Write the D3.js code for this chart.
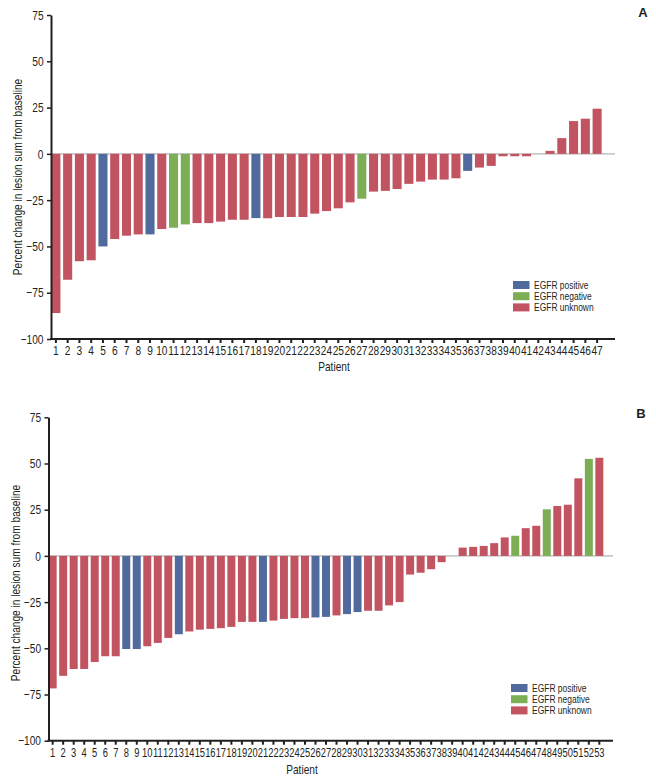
<!DOCTYPE html>
<html>
<head>
<meta charset="utf-8">
<script src="https://cdn.jsdelivr.net/npm/d3@7"></script>
<style>
  html, body { margin: 0; padding: 0; background: #fff; }
  svg { display: block; }
  text { font-family: "Liberation Sans", Arial, sans-serif; fill: #231f20; }
</style>
</head>
<body>
<svg id="chart" width="656" height="781"></svg>
<script>
// ---------- DATA ----------
const statusNames = ["EGFR positive", "EGFR negative", "EGFR unknown"];
const statusColors = ["#506a9d", "#7cae55", "#c25462"];

const yTicks = [-100, -75, -50, -25, 0, 25, 50, 75];

// Panel A: 47 patients (P = positive, N = negative, U = unknown)
const patientsA = d3.range(1, 48);
const valuesA = [-86, -68, -58, -57.5, -50, -46, -44.2, -43.5, -43.5, -40.6,
  -39.9, -38.1, -37.4, -37.4, -36.6, -35.6, -35.6, -34.7, -34.8, -34.1,
  -34.1, -34.1, -32.3, -30.9, -29.4, -26.2, -24.2, -20.4, -20, -19,
  -16.2, -15, -13.9, -13.9, -13.2, -9.2, -7.4, -6.5, -1.3, -1.3,
  -1.3, 0, 1.6, 8.5, 17.7, 19, 24.4];
const statusA = ["U","U","U","U","P","U","U","U","P","U",
  "N","N","U","U","U","U","U","P","U","U",
  "U","U","U","U","U","U","N","U","U","U",
  "U","U","U","U","U","P","U","U","U","U",
  "U","U","U","U","U","U","U"];

// Panel B: 53 patients
const patientsB = d3.range(1, 54);
const valuesB = [-71.7, -64.9, -61.2, -61.2, -57.4, -54.3, -54.3, -50.4, -50.4, -48.9,
  -47.1, -44.4, -42.4, -40.9, -39.9, -39.5, -39.1, -38.4, -35.7, -35.7,
  -35.7, -35, -34.1, -33.7, -33.7, -33.3, -33, -32.2, -31.5, -30.4,
  -29.7, -29.7, -26.8, -25, -10.1, -9.1, -7.2, -3.4, 0, 4.5,
  4.9, 5.4, 6.9, 10, 10.9, 15, 16.3, 25.2, 27, 27.7,
  42, 52.5, 53.1];
const statusB = ["U","U","U","U","U","U","U","P","P","U",
  "U","U","P","U","U","U","U","U","U","U",
  "P","U","U","U","U","P","P","U","P","P",
  "U","U","U","U","U","U","U","U","U","U",
  "U","U","U","U","N","U","U","N","U","U",
  "U","N","U"];

const statusCode = { P: 0, N: 1, U: 2 };

// ---------- DRAW ----------
const svg = d3.select("#chart");
const SQ = 0.78; // horizontal condensing of the Helvetica-Condensed-like type

function panel(cfg) {
  const g = svg.append("g");
  const y = d3.scaleLinear().domain([-100, 75]).range([cfg.yBottom, cfg.yTop]);
  const x = d3.scaleBand().domain(cfg.patients).range([cfg.x0, cfg.x1])
    .paddingInner(cfg.padIn).paddingOuter(cfg.padIn / 2);

  // zero reference line
  g.append("line")
    .attr("x1", cfg.axisX).attr("x2", cfg.axisEnd)
    .attr("y1", y(0)).attr("y2", y(0))
    .attr("stroke", "#c9c9c9").attr("stroke-width", 1.6);

  // bars
  g.selectAll("rect.bar")
    .data(cfg.patients.map((p, i) => ({ p, v: cfg.values[i], s: statusCode[cfg.status[i]] })))
    .join("rect")
    .attr("class", "bar")
    .attr("x", d => x(d.p))
    .attr("width", x.bandwidth())
    .attr("y", d => y(Math.max(0, d.v)))
    .attr("height", d => Math.abs(y(d.v) - y(0)))
    .attr("fill", d => statusColors[d.s]);

  // y axis
  const yAxis = d3.axisLeft(y).tickValues(yTicks).tickSize(4).tickSizeOuter(0);
  const ya = g.append("g").attr("transform", `translate(${cfg.axisX},0)`).call(yAxis);
  ya.select(".domain").attr("stroke", "#231f20").attr("stroke-width", 2);
  ya.selectAll(".tick line").attr("stroke", "#231f20").attr("stroke-width", 1.5);
  ya.selectAll(".tick text")
    .attr("x", -7.5 / SQ)
    .attr("transform", `scale(${SQ},1)`)
    .style("font-size", "13px")
    .style("font-family", "'Liberation Sans', Arial, sans-serif")
    .attr("fill", "#444");

  // x axis
  const xAxis = d3.axisBottom(x).tickSize(4).tickSizeOuter(0);
  const xa = g.append("g").attr("transform", `translate(0,${cfg.yBottom})`).call(xAxis);
  xa.select(".domain").remove();
  g.append("line")
    .attr("x1", cfg.axisX - 1).attr("x2", cfg.axisEnd)
    .attr("y1", cfg.yBottom).attr("y2", cfg.yBottom)
    .attr("stroke", "#231f20").attr("stroke-width", 2);
  xa.selectAll(".tick line").attr("stroke", "#231f20").attr("stroke-width", 2);
  xa.selectAll(".tick text")
    .attr("y", 7)
    .attr("transform", `scale(${cfg.xSq},1)`)
    .style("font-size", cfg.xFont)
    .style("font-family", "'Liberation Sans', Arial, sans-serif")
    .attr("fill", "#444");

  // axis titles
  g.append("text")
    .attr("transform", `translate(${cfg.yTitleX},${cfg.yTitleY}) rotate(-90) scale(${SQ},1)`)
    .attr("text-anchor", "middle")
    .style("font-size", "13px")
    .text("Percent change in lesion sum from baseline");
  g.append("text")
    .attr("transform", `translate(${cfg.xTitleX},${cfg.xTitleY}) scale(${SQ},1)`)
    .attr("text-anchor", "middle")
    .style("font-size", "13px")
    .text("Patient");

  // panel letter
  g.append("text")
    .attr("x", cfg.letterX).attr("y", cfg.letterY)
    .attr("text-anchor", "middle")
    .style("font-weight", "bold").style("font-size", "13px")
    .text(cfg.letter);

  // legend
  const lg = g.append("g").attr("transform", `translate(${cfg.legX},${cfg.legY})`);
  statusNames.forEach((name, i) => {
    lg.append("rect").attr("x", 0).attr("y", i * 11.2 - 4).attr("width", 16.5).attr("height", 8)
      .attr("fill", statusColors[i]);
    lg.append("text")
      .attr("transform", `translate(21,${i * 11.2 + 3.8}) scale(0.77,1)`)
      .style("font-size", "11px").attr("fill", "#333").text(name);
  });
}

panel({
  patients: patientsA, values: valuesA, status: statusA,
  yTop: 15, yBottom: 339, x0: 50, x1: 603, padIn: 0.23,
  axisX: 51, axisEnd: 615, xFont: "13px", xSq: 0.78,
  yTitleX: 22, yTitleY: 177, xTitleX: 334, xTitleY: 371,
  letter: "A", letterX: 643, letterY: 17,
  legX: 513, legY: 285
});

panel({
  patients: patientsB, values: valuesB, status: statusB,
  yTop: 417.3, yBottom: 740.7, x0: 47.4, x1: 604.6, padIn: 0.24,
  axisX: 48.5, axisEnd: 613, xFont: "13px", xSq: 0.72,
  yTitleX: 20, yTitleY: 583, xTitleX: 302, xTitleY: 774,
  letter: "B", letterX: 641, letterY: 418,
  legX: 511, legY: 688
});
</script>
</body>
</html>
